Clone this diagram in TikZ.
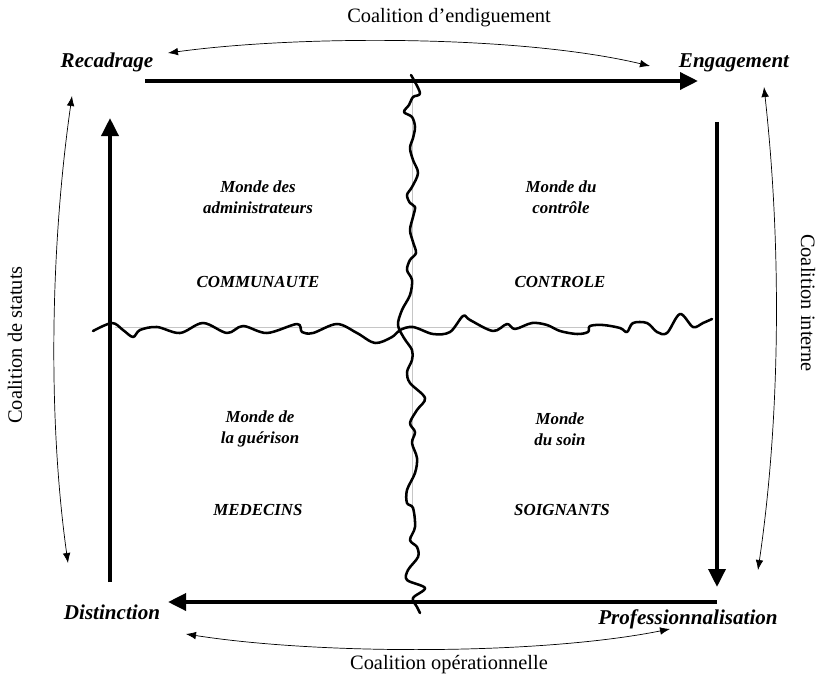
\documentclass[tikz,border=0pt]{standalone}
\usepackage{fontspec}
\setmainfont{Liberation Serif}
\usetikzlibrary{arrows.meta, positioning}
\tikzset{
  coal/.style   = {font=\fontsize{14.5}{17}\selectfont},
  pole/.style   = {font=\fontsize{15}{18}\selectfont\bfseries\itshape},
  monde/.style  = {align=center, font=\fontsize{12}{14.6}\selectfont\bfseries\itshape},
  axe/.style    = {-{Triangle[length=0.45cm, width=0.42cm]}, line width=0.1cm},
  lien/.style   = {{Latex[length=0.25cm, width=0.19cm]}-{Latex[length=0.25cm, width=0.19cm]},
                   line width=0.5pt},
  vague/.style  = {line width=1.8pt, line join=round, line cap=round},
  guide/.style  = {gray!45, line width=0.5pt},
}

\begin{document}
\begin{tikzpicture}[x=0.025cm, y=-0.025cm]
  \useasboundingbox (0,0) rectangle (819,675);

  % poles
  \node[pole] (rec) at (107,62)  {Recadrage};
  \node[pole] (eng) at (734,63)  {Engagement};
  \node[pole] (dis) at (112,612) {Distinction};
  \node[pole] (pro) at (688,619) {Professionnalisation};

  % coalitions
  \node[coal]             (cEnd) at (449,18)  {Coalition d'endiguement};
  \node[coal]             (cOpe) at (449,665) {Coalition opérationnelle};
  \node[coal, rotate=90]  (cSta) at (15,345)  {Coalition de statuts};
  \node[coal, rotate=-90] (cInt) at (808,303) {Coalition interne};

  % mondes
  \node[monde] (mAdm) at (258,197) {Monde des\\administrateurs};
  \node[monde] (lCom) at (258,282) {COMMUNAUTE};
  \node[monde] (mCtl) at (561,197) {Monde du\\contrôle};
  \node[monde] (lCtl) at (560,282) {CONTROLE};
  \node[monde] (mGue) at (260,429) {Monde de\\la guérison};
  \node[monde] (lMed) at (258,510) {MEDECINS};
  \node[monde] (mSoi) at (560,429) {Monde\\du soin};
  \node[monde] (lSoi) at (562,510) {SOIGNANTS};

  % ends of the axes
  \coordinate (hG) at (145,81);  \coordinate (hD) at (698,81);
  \coordinate (dH) at (717,122); \coordinate (dB) at (717,587);
  \coordinate (bD) at (717,602); \coordinate (bG) at (168,602);
  \coordinate (gB) at (110,582); \coordinate (gH) at (110,118);

  % ends of the coalition arrows
  \coordinate (e1) at (168,53);  \coordinate (e2) at (650,66);
  \coordinate (o1) at (186,634); \coordinate (o2) at (670,629);
  \coordinate (s1) at (72,96);   \coordinate (s2) at (68,563);
  \coordinate (i1) at (764,87);  \coordinate (i2) at (758,570);

  % faint guides
  \draw[guide] (115,327) -- (590,327);
  \draw[guide] (412,80) -- (412,510);

  \draw[axe] (hG) -- (hD);
  \draw[axe] (dH) -- (dB);
  \draw[axe] (bD) -- (bG);
  \draw[axe] (gB) -- (gH);

  \draw[lien] (e1) .. controls (300,35) and (520,35) .. (e2);
  \draw[lien] (o1) .. controls (320,655) and (540,655) .. (o2);
  \draw[lien] (s1) .. controls (50,250) and (48,420) .. (s2);
  \draw[lien] (i1) .. controls (782,250) and (780,420) .. (i2);

  % frontieres
  \draw[vague] plot[smooth, tension=0.55] coordinates {
    (93,331) (112,323) (123,330) (133,337) (140,330) (157,327) (180,333)
    (203,323) (227,333) (243,326) (267,333) (297,324) (302,332) (313,333)
    (337,324) (357,333) (375,343) (392,337) (400,330) (413,327) (433,334)
    (450,332) (463,316) (470,320) (493,331) (507,324) (515,329) (532,323)
    (547,325) (560,331) (577,334) (588,332) (590,326) (603,325) (620,328)
    (627,332) (633,323) (647,323) (657,332) (667,333) (680,314) (693,327)
    (703,323) (712,319)};
  \draw[vague] plot[smooth, tension=0.55] coordinates {
    (411,75) (420,93) (413,97) (409,105) (404,112) (412,117) (415,127)
    (413,138) (410,148) (413,160) (418,173) (412,187) (407,195) (410,203)
    (415,207) (413,217) (410,230) (413,242) (416,253) (410,260) (407,270)
    (412,280) (410,295) (402,310) (398,325) (404,338) (412,350) (412,360)
    (407,372) (410,383) (425,398) (417,410) (410,423) (415,432) (412,443)
    (417,458) (415,473) (407,490) (407,503) (413,508) (415,527) (410,540)
    (417,547) (418,557) (408,570) (407,580) (425,588) (413,598) (417,607)
    (420,613)};

\end{tikzpicture}
\end{document}
